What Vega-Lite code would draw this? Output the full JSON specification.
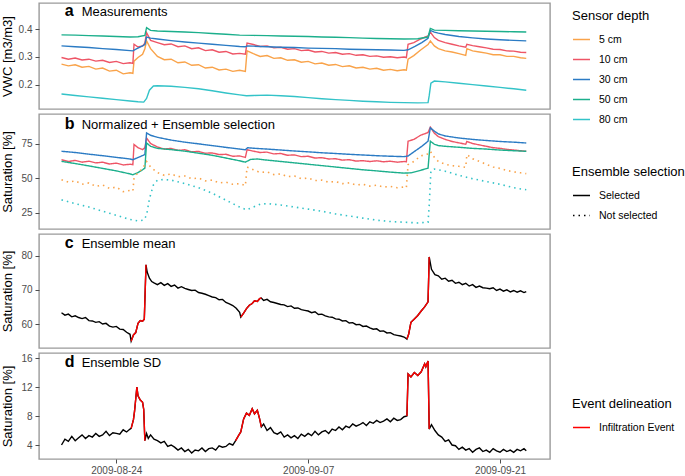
{
"$schema":"https://vega.github.io/schema/vega-lite/v6.json",
"background":"white",
"padding":{"left":0,"top":2,"right":5,"bottom":5},
"bounds":"flush",
"spacing":5,
"config":{
 "font":"Liberation Sans",
 "view":{"stroke":"#9a9a9a","strokeWidth":1.4},
 "axis":{"grid":false,"domain":false,"labelOverlap":false,"labelFont":"Liberation Sans","labelFontSize":10,"labelColor":"#4d4d4d","tickColor":"#4d4d4d","tickSize":4,"labelPadding":3,"titleFont":"Liberation Sans","titleFontSize":13,"titleFontWeight":"normal","titleColor":"#000000"},
 "legend":{"titleFont":"Liberation Sans","labelFont":"Liberation Sans","titleFontSize":13,"titleFontWeight":"normal","titleColor":"#000000","labelFontSize":10.5,"labelColor":"#000000","symbolType":"stroke","symbolSize":289,"symbolStrokeWidth":1.5,"rowPadding":5,"titlePadding":7,"labelOffset":8,"padding":0}
},
"datasets":{
"a":[
{"t":"2009-08-20T00:00","s":"5 cm","v":0.274},{"t":"2009-08-20T12:00","s":"5 cm","v":0.268},{"t":"2009-08-21T00:00","s":"5 cm","v":0.272},{"t":"2009-08-21T12:00","s":"5 cm","v":0.263},{"t":"2009-08-22T00:00","s":"5 cm","v":0.266},{"t":"2009-08-22T12:00","s":"5 cm","v":0.256},{"t":"2009-08-23T00:00","s":"5 cm","v":0.26},{"t":"2009-08-23T12:00","s":"5 cm","v":0.249},{"t":"2009-08-24T00:00","s":"5 cm","v":0.252},{"t":"2009-08-24T12:00","s":"5 cm","v":0.239},{"t":"2009-08-25T00:00","s":"5 cm","v":0.243},{"t":"2009-08-25T05:00","s":"5 cm","v":0.241},{"t":"2009-08-25T07:00","s":"5 cm","v":0.285},{"t":"2009-08-25T14:00","s":"5 cm","v":0.298},{"t":"2009-08-25T22:00","s":"5 cm","v":0.31},{"t":"2009-08-26T02:00","s":"5 cm","v":0.33},{"t":"2009-08-26T05:00","s":"5 cm","v":0.358},{"t":"2009-08-26T12:00","s":"5 cm","v":0.33},{"t":"2009-08-27T00:00","s":"5 cm","v":0.302},{"t":"2009-08-27T12:00","s":"5 cm","v":0.29},{"t":"2009-08-28T00:00","s":"5 cm","v":0.292},{"t":"2009-08-28T12:00","s":"5 cm","v":0.279},{"t":"2009-08-29T00:00","s":"5 cm","v":0.282},{"t":"2009-08-29T12:00","s":"5 cm","v":0.27},{"t":"2009-08-30T00:00","s":"5 cm","v":0.272},{"t":"2009-08-30T12:00","s":"5 cm","v":0.26},{"t":"2009-08-31T00:00","s":"5 cm","v":0.263},{"t":"2009-08-31T12:00","s":"5 cm","v":0.253},{"t":"2009-09-01T00:00","s":"5 cm","v":0.256},{"t":"2009-09-01T12:00","s":"5 cm","v":0.248},{"t":"2009-09-02T00:00","s":"5 cm","v":0.252},{"t":"2009-09-02T10:00","s":"5 cm","v":0.248},{"t":"2009-09-02T13:00","s":"5 cm","v":0.322},{"t":"2009-09-03T00:00","s":"5 cm","v":0.312},{"t":"2009-09-03T12:00","s":"5 cm","v":0.302},{"t":"2009-09-04T00:00","s":"5 cm","v":0.305},{"t":"2009-09-04T12:00","s":"5 cm","v":0.295},{"t":"2009-09-05T00:00","s":"5 cm","v":0.297},{"t":"2009-09-05T12:00","s":"5 cm","v":0.288},{"t":"2009-09-06T00:00","s":"5 cm","v":0.29},{"t":"2009-09-06T12:00","s":"5 cm","v":0.281},{"t":"2009-09-07T00:00","s":"5 cm","v":0.284},{"t":"2009-09-07T12:00","s":"5 cm","v":0.275},{"t":"2009-09-08T00:00","s":"5 cm","v":0.278},{"t":"2009-09-08T12:00","s":"5 cm","v":0.27},{"t":"2009-09-09T00:00","s":"5 cm","v":0.273},{"t":"2009-09-09T12:00","s":"5 cm","v":0.265},{"t":"2009-09-10T00:00","s":"5 cm","v":0.268},{"t":"2009-09-10T12:00","s":"5 cm","v":0.26},{"t":"2009-09-11T00:00","s":"5 cm","v":0.263},{"t":"2009-09-11T12:00","s":"5 cm","v":0.256},{"t":"2009-09-12T00:00","s":"5 cm","v":0.259},{"t":"2009-09-12T12:00","s":"5 cm","v":0.252},{"t":"2009-09-13T00:00","s":"5 cm","v":0.255},{"t":"2009-09-13T12:00","s":"5 cm","v":0.25},{"t":"2009-09-14T00:00","s":"5 cm","v":0.254},{"t":"2009-09-14T04:00","s":"5 cm","v":0.252},{"t":"2009-09-14T07:00","s":"5 cm","v":0.292},{"t":"2009-09-14T17:00","s":"5 cm","v":0.305},{"t":"2009-09-15T05:00","s":"5 cm","v":0.325},{"t":"2009-09-15T18:00","s":"5 cm","v":0.345},{"t":"2009-09-15T22:00","s":"5 cm","v":0.358},{"t":"2009-09-16T05:00","s":"5 cm","v":0.34},{"t":"2009-09-16T12:00","s":"5 cm","v":0.33},{"t":"2009-09-17T00:00","s":"5 cm","v":0.322},{"t":"2009-09-17T12:00","s":"5 cm","v":0.318},{"t":"2009-09-18T00:00","s":"5 cm","v":0.312},{"t":"2009-09-18T12:00","s":"5 cm","v":0.306},{"t":"2009-09-18T14:00","s":"5 cm","v":0.33},{"t":"2009-09-19T00:00","s":"5 cm","v":0.322},{"t":"2009-09-19T12:00","s":"5 cm","v":0.318},{"t":"2009-09-20T00:00","s":"5 cm","v":0.314},{"t":"2009-09-20T12:00","s":"5 cm","v":0.308},{"t":"2009-09-21T00:00","s":"5 cm","v":0.308},{"t":"2009-09-21T12:00","s":"5 cm","v":0.302},{"t":"2009-09-22T00:00","s":"5 cm","v":0.302},{"t":"2009-09-22T12:00","s":"5 cm","v":0.297},{"t":"2009-09-22T22:00","s":"5 cm","v":0.295},
{"t":"2009-08-20T00:00","s":"10 cm","v":0.298},{"t":"2009-08-20T12:00","s":"10 cm","v":0.292},{"t":"2009-08-21T00:00","s":"10 cm","v":0.296},{"t":"2009-08-21T12:00","s":"10 cm","v":0.289},{"t":"2009-08-22T00:00","s":"10 cm","v":0.292},{"t":"2009-08-22T12:00","s":"10 cm","v":0.285},{"t":"2009-08-23T00:00","s":"10 cm","v":0.288},{"t":"2009-08-23T12:00","s":"10 cm","v":0.28},{"t":"2009-08-24T00:00","s":"10 cm","v":0.284},{"t":"2009-08-24T12:00","s":"10 cm","v":0.276},{"t":"2009-08-25T00:00","s":"10 cm","v":0.279},{"t":"2009-08-25T05:00","s":"10 cm","v":0.277},{"t":"2009-08-25T07:00","s":"10 cm","v":0.346},{"t":"2009-08-25T14:00","s":"10 cm","v":0.336},{"t":"2009-08-25T22:00","s":"10 cm","v":0.34},{"t":"2009-08-26T02:00","s":"10 cm","v":0.35},{"t":"2009-08-26T05:00","s":"10 cm","v":0.388},{"t":"2009-08-26T12:00","s":"10 cm","v":0.36},{"t":"2009-08-27T00:00","s":"10 cm","v":0.352},{"t":"2009-08-27T12:00","s":"10 cm","v":0.344},{"t":"2009-08-28T00:00","s":"10 cm","v":0.347},{"t":"2009-08-28T12:00","s":"10 cm","v":0.337},{"t":"2009-08-29T00:00","s":"10 cm","v":0.34},{"t":"2009-08-29T12:00","s":"10 cm","v":0.33},{"t":"2009-08-30T00:00","s":"10 cm","v":0.333},{"t":"2009-08-30T12:00","s":"10 cm","v":0.323},{"t":"2009-08-31T00:00","s":"10 cm","v":0.326},{"t":"2009-08-31T12:00","s":"10 cm","v":0.317},{"t":"2009-09-01T00:00","s":"10 cm","v":0.32},{"t":"2009-09-01T12:00","s":"10 cm","v":0.311},{"t":"2009-09-02T00:00","s":"10 cm","v":0.313},{"t":"2009-09-02T10:00","s":"10 cm","v":0.31},{"t":"2009-09-02T13:00","s":"10 cm","v":0.35},{"t":"2009-09-03T00:00","s":"10 cm","v":0.345},{"t":"2009-09-03T12:00","s":"10 cm","v":0.338},{"t":"2009-09-04T00:00","s":"10 cm","v":0.34},{"t":"2009-09-04T12:00","s":"10 cm","v":0.333},{"t":"2009-09-05T00:00","s":"10 cm","v":0.335},{"t":"2009-09-05T12:00","s":"10 cm","v":0.328},{"t":"2009-09-06T00:00","s":"10 cm","v":0.33},{"t":"2009-09-06T12:00","s":"10 cm","v":0.323},{"t":"2009-09-07T00:00","s":"10 cm","v":0.325},{"t":"2009-09-07T12:00","s":"10 cm","v":0.318},{"t":"2009-09-08T00:00","s":"10 cm","v":0.32},{"t":"2009-09-08T12:00","s":"10 cm","v":0.314},{"t":"2009-09-09T00:00","s":"10 cm","v":0.316},{"t":"2009-09-09T12:00","s":"10 cm","v":0.31},{"t":"2009-09-10T00:00","s":"10 cm","v":0.312},{"t":"2009-09-10T12:00","s":"10 cm","v":0.306},{"t":"2009-09-11T00:00","s":"10 cm","v":0.308},{"t":"2009-09-11T12:00","s":"10 cm","v":0.302},{"t":"2009-09-12T00:00","s":"10 cm","v":0.304},{"t":"2009-09-12T12:00","s":"10 cm","v":0.299},{"t":"2009-09-13T00:00","s":"10 cm","v":0.301},{"t":"2009-09-13T12:00","s":"10 cm","v":0.297},{"t":"2009-09-14T00:00","s":"10 cm","v":0.3},{"t":"2009-09-14T04:00","s":"10 cm","v":0.298},{"t":"2009-09-14T07:00","s":"10 cm","v":0.346},{"t":"2009-09-14T17:00","s":"10 cm","v":0.352},{"t":"2009-09-15T05:00","s":"10 cm","v":0.365},{"t":"2009-09-15T18:00","s":"10 cm","v":0.376},{"t":"2009-09-15T22:00","s":"10 cm","v":0.39},{"t":"2009-09-16T05:00","s":"10 cm","v":0.37},{"t":"2009-09-16T12:00","s":"10 cm","v":0.36},{"t":"2009-09-17T00:00","s":"10 cm","v":0.352},{"t":"2009-09-17T12:00","s":"10 cm","v":0.346},{"t":"2009-09-18T00:00","s":"10 cm","v":0.34},{"t":"2009-09-18T12:00","s":"10 cm","v":0.335},{"t":"2009-09-18T14:00","s":"10 cm","v":0.346},{"t":"2009-09-19T00:00","s":"10 cm","v":0.341},{"t":"2009-09-19T12:00","s":"10 cm","v":0.337},{"t":"2009-09-20T00:00","s":"10 cm","v":0.333},{"t":"2009-09-20T12:00","s":"10 cm","v":0.328},{"t":"2009-09-21T00:00","s":"10 cm","v":0.327},{"t":"2009-09-21T12:00","s":"10 cm","v":0.322},{"t":"2009-09-22T00:00","s":"10 cm","v":0.321},{"t":"2009-09-22T12:00","s":"10 cm","v":0.317},{"t":"2009-09-22T22:00","s":"10 cm","v":0.316},
{"t":"2009-08-20T00:00","s":"30 cm","v":0.34},{"t":"2009-08-21T00:00","s":"30 cm","v":0.337},{"t":"2009-08-22T00:00","s":"30 cm","v":0.334},{"t":"2009-08-23T00:00","s":"30 cm","v":0.33},{"t":"2009-08-24T00:00","s":"30 cm","v":0.327},{"t":"2009-08-25T00:00","s":"30 cm","v":0.323},{"t":"2009-08-25T05:00","s":"30 cm","v":0.322},{"t":"2009-08-25T12:00","s":"30 cm","v":0.33},{"t":"2009-08-25T22:00","s":"30 cm","v":0.34},{"t":"2009-08-26T02:00","s":"30 cm","v":0.345},{"t":"2009-08-26T05:00","s":"30 cm","v":0.372},{"t":"2009-08-26T12:00","s":"30 cm","v":0.368},{"t":"2009-08-27T00:00","s":"30 cm","v":0.365},{"t":"2009-08-28T00:00","s":"30 cm","v":0.359},{"t":"2009-08-29T00:00","s":"30 cm","v":0.354},{"t":"2009-08-30T00:00","s":"30 cm","v":0.35},{"t":"2009-08-31T00:00","s":"30 cm","v":0.346},{"t":"2009-09-01T00:00","s":"30 cm","v":0.342},{"t":"2009-09-02T00:00","s":"30 cm","v":0.338},{"t":"2009-09-02T10:00","s":"30 cm","v":0.337},{"t":"2009-09-02T14:00","s":"30 cm","v":0.34},{"t":"2009-09-03T00:00","s":"30 cm","v":0.339},{"t":"2009-09-04T00:00","s":"30 cm","v":0.337},{"t":"2009-09-05T00:00","s":"30 cm","v":0.335},{"t":"2009-09-06T00:00","s":"30 cm","v":0.334},{"t":"2009-09-07T00:00","s":"30 cm","v":0.332},{"t":"2009-09-08T00:00","s":"30 cm","v":0.331},{"t":"2009-09-09T00:00","s":"30 cm","v":0.33},{"t":"2009-09-10T00:00","s":"30 cm","v":0.328},{"t":"2009-09-11T00:00","s":"30 cm","v":0.327},{"t":"2009-09-12T00:00","s":"30 cm","v":0.326},{"t":"2009-09-13T00:00","s":"30 cm","v":0.325},{"t":"2009-09-14T00:00","s":"30 cm","v":0.324},{"t":"2009-09-14T07:00","s":"30 cm","v":0.326},{"t":"2009-09-14T19:00","s":"30 cm","v":0.338},{"t":"2009-09-15T07:00","s":"30 cm","v":0.352},{"t":"2009-09-15T18:00","s":"30 cm","v":0.367},{"t":"2009-09-15T22:00","s":"30 cm","v":0.396},{"t":"2009-09-16T05:00","s":"30 cm","v":0.39},{"t":"2009-09-16T12:00","s":"30 cm","v":0.386},{"t":"2009-09-17T00:00","s":"30 cm","v":0.381},{"t":"2009-09-18T00:00","s":"30 cm","v":0.374},{"t":"2009-09-19T00:00","s":"30 cm","v":0.369},{"t":"2009-09-20T00:00","s":"30 cm","v":0.365},{"t":"2009-09-21T00:00","s":"30 cm","v":0.362},{"t":"2009-09-22T00:00","s":"30 cm","v":0.36},{"t":"2009-09-22T22:00","s":"30 cm","v":0.358},
{"t":"2009-08-20T00:00","s":"50 cm","v":0.38},{"t":"2009-08-21T00:00","s":"50 cm","v":0.379},{"t":"2009-08-22T00:00","s":"50 cm","v":0.377},{"t":"2009-08-23T00:00","s":"50 cm","v":0.376},{"t":"2009-08-24T00:00","s":"50 cm","v":0.374},{"t":"2009-08-25T00:00","s":"50 cm","v":0.372},{"t":"2009-08-25T14:00","s":"50 cm","v":0.373},{"t":"2009-08-26T02:00","s":"50 cm","v":0.378},{"t":"2009-08-26T05:00","s":"50 cm","v":0.406},{"t":"2009-08-26T12:00","s":"50 cm","v":0.396},{"t":"2009-08-27T00:00","s":"50 cm","v":0.394},{"t":"2009-08-28T00:00","s":"50 cm","v":0.392},{"t":"2009-08-29T00:00","s":"50 cm","v":0.39},{"t":"2009-08-30T00:00","s":"50 cm","v":0.388},{"t":"2009-08-31T00:00","s":"50 cm","v":0.385},{"t":"2009-09-01T00:00","s":"50 cm","v":0.382},{"t":"2009-09-02T00:00","s":"50 cm","v":0.379},{"t":"2009-09-03T00:00","s":"50 cm","v":0.378},{"t":"2009-09-04T00:00","s":"50 cm","v":0.377},{"t":"2009-09-05T00:00","s":"50 cm","v":0.376},{"t":"2009-09-06T00:00","s":"50 cm","v":0.375},{"t":"2009-09-07T00:00","s":"50 cm","v":0.374},{"t":"2009-09-08T00:00","s":"50 cm","v":0.372},{"t":"2009-09-09T00:00","s":"50 cm","v":0.371},{"t":"2009-09-10T00:00","s":"50 cm","v":0.37},{"t":"2009-09-11T00:00","s":"50 cm","v":0.368},{"t":"2009-09-12T00:00","s":"50 cm","v":0.367},{"t":"2009-09-13T00:00","s":"50 cm","v":0.366},{"t":"2009-09-14T00:00","s":"50 cm","v":0.365},{"t":"2009-09-15T00:00","s":"50 cm","v":0.366},{"t":"2009-09-15T18:00","s":"50 cm","v":0.372},{"t":"2009-09-15T22:00","s":"50 cm","v":0.403},{"t":"2009-09-16T05:00","s":"50 cm","v":0.397},{"t":"2009-09-17T00:00","s":"50 cm","v":0.396},{"t":"2009-09-18T00:00","s":"50 cm","v":0.395},{"t":"2009-09-19T00:00","s":"50 cm","v":0.394},{"t":"2009-09-20T00:00","s":"50 cm","v":0.393},{"t":"2009-09-21T00:00","s":"50 cm","v":0.392},{"t":"2009-09-22T00:00","s":"50 cm","v":0.391},{"t":"2009-09-22T22:00","s":"50 cm","v":0.39},
{"t":"2009-08-20T00:00","s":"80 cm","v":0.166},{"t":"2009-08-21T00:00","s":"80 cm","v":0.161},{"t":"2009-08-22T00:00","s":"80 cm","v":0.156},{"t":"2009-08-23T00:00","s":"80 cm","v":0.151},{"t":"2009-08-24T00:00","s":"80 cm","v":0.146},{"t":"2009-08-25T00:00","s":"80 cm","v":0.141},{"t":"2009-08-25T14:00","s":"80 cm","v":0.138},{"t":"2009-08-26T00:00","s":"80 cm","v":0.137},{"t":"2009-08-26T05:00","s":"80 cm","v":0.15},{"t":"2009-08-26T10:00","s":"80 cm","v":0.18},{"t":"2009-08-26T17:00","s":"80 cm","v":0.195},{"t":"2009-08-27T00:00","s":"80 cm","v":0.196},{"t":"2009-08-28T00:00","s":"80 cm","v":0.194},{"t":"2009-08-29T00:00","s":"80 cm","v":0.19},{"t":"2009-08-30T00:00","s":"80 cm","v":0.185},{"t":"2009-08-31T00:00","s":"80 cm","v":0.178},{"t":"2009-09-01T00:00","s":"80 cm","v":0.17},{"t":"2009-09-02T00:00","s":"80 cm","v":0.163},{"t":"2009-09-02T12:00","s":"80 cm","v":0.16},{"t":"2009-09-03T00:00","s":"80 cm","v":0.161},{"t":"2009-09-04T00:00","s":"80 cm","v":0.162},{"t":"2009-09-05T00:00","s":"80 cm","v":0.16},{"t":"2009-09-06T00:00","s":"80 cm","v":0.157},{"t":"2009-09-07T00:00","s":"80 cm","v":0.153},{"t":"2009-09-08T00:00","s":"80 cm","v":0.149},{"t":"2009-09-09T00:00","s":"80 cm","v":0.146},{"t":"2009-09-10T00:00","s":"80 cm","v":0.143},{"t":"2009-09-11T00:00","s":"80 cm","v":0.14},{"t":"2009-09-12T00:00","s":"80 cm","v":0.138},{"t":"2009-09-13T00:00","s":"80 cm","v":0.136},{"t":"2009-09-14T00:00","s":"80 cm","v":0.135},{"t":"2009-09-15T00:00","s":"80 cm","v":0.134},{"t":"2009-09-15T18:00","s":"80 cm","v":0.135},{"t":"2009-09-15T20:00","s":"80 cm","v":0.16},{"t":"2009-09-15T23:00","s":"80 cm","v":0.205},{"t":"2009-09-16T05:00","s":"80 cm","v":0.213},{"t":"2009-09-17T00:00","s":"80 cm","v":0.21},{"t":"2009-09-18T00:00","s":"80 cm","v":0.205},{"t":"2009-09-19T00:00","s":"80 cm","v":0.2},{"t":"2009-09-20T00:00","s":"80 cm","v":0.195},{"t":"2009-09-21T00:00","s":"80 cm","v":0.19},{"t":"2009-09-22T00:00","s":"80 cm","v":0.185},{"t":"2009-09-22T22:00","s":"80 cm","v":0.18}
],
"b":[
{"t":"2009-08-20T00:00","s":"10 cm","v":63.3},{"t":"2009-08-20T12:00","s":"10 cm","v":62},{"t":"2009-08-21T00:00","s":"10 cm","v":62.8},{"t":"2009-08-21T12:00","s":"10 cm","v":61.5},{"t":"2009-08-22T00:00","s":"10 cm","v":62.2},{"t":"2009-08-22T12:00","s":"10 cm","v":61},{"t":"2009-08-23T00:00","s":"10 cm","v":61.5},{"t":"2009-08-23T12:00","s":"10 cm","v":60.2},{"t":"2009-08-24T00:00","s":"10 cm","v":60.8},{"t":"2009-08-24T12:00","s":"10 cm","v":59.5},{"t":"2009-08-25T00:00","s":"10 cm","v":60},{"t":"2009-08-25T05:00","s":"10 cm","v":59.7},{"t":"2009-08-25T07:00","s":"10 cm","v":74.3},{"t":"2009-08-25T14:00","s":"10 cm","v":72},{"t":"2009-08-25T22:00","s":"10 cm","v":70.6},{"t":"2009-08-26T02:00","s":"10 cm","v":72},{"t":"2009-08-26T05:00","s":"10 cm","v":79},{"t":"2009-08-26T12:00","s":"10 cm","v":75},{"t":"2009-08-27T00:00","s":"10 cm","v":72.5},{"t":"2009-08-27T12:00","s":"10 cm","v":71},{"t":"2009-08-28T00:00","s":"10 cm","v":71.5},{"t":"2009-08-28T12:00","s":"10 cm","v":70},{"t":"2009-08-29T00:00","s":"10 cm","v":70.5},{"t":"2009-08-29T12:00","s":"10 cm","v":69},{"t":"2009-08-30T00:00","s":"10 cm","v":69.3},{"t":"2009-08-30T12:00","s":"10 cm","v":68},{"t":"2009-08-31T00:00","s":"10 cm","v":68.2},{"t":"2009-08-31T12:00","s":"10 cm","v":67},{"t":"2009-09-01T00:00","s":"10 cm","v":67.2},{"t":"2009-09-01T12:00","s":"10 cm","v":65.8},{"t":"2009-09-02T00:00","s":"10 cm","v":66},{"t":"2009-09-02T10:00","s":"10 cm","v":65},{"t":"2009-09-02T13:00","s":"10 cm","v":70.5},{"t":"2009-09-03T00:00","s":"10 cm","v":69.5},{"t":"2009-09-03T12:00","s":"10 cm","v":68.5},{"t":"2009-09-04T00:00","s":"10 cm","v":68.8},{"t":"2009-09-04T12:00","s":"10 cm","v":67.5},{"t":"2009-09-05T00:00","s":"10 cm","v":67.8},{"t":"2009-09-05T12:00","s":"10 cm","v":66.5},{"t":"2009-09-06T00:00","s":"10 cm","v":66.8},{"t":"2009-09-06T12:00","s":"10 cm","v":65.5},{"t":"2009-09-07T00:00","s":"10 cm","v":65.8},{"t":"2009-09-07T12:00","s":"10 cm","v":64.5},{"t":"2009-09-08T00:00","s":"10 cm","v":64.8},{"t":"2009-09-08T12:00","s":"10 cm","v":63.8},{"t":"2009-09-09T00:00","s":"10 cm","v":64},{"t":"2009-09-09T12:00","s":"10 cm","v":63},{"t":"2009-09-10T00:00","s":"10 cm","v":63.3},{"t":"2009-09-10T12:00","s":"10 cm","v":62.3},{"t":"2009-09-11T00:00","s":"10 cm","v":62.6},{"t":"2009-09-11T12:00","s":"10 cm","v":62},{"t":"2009-09-12T00:00","s":"10 cm","v":62.5},{"t":"2009-09-12T12:00","s":"10 cm","v":61.8},{"t":"2009-09-13T00:00","s":"10 cm","v":62.2},{"t":"2009-09-13T12:00","s":"10 cm","v":61.5},{"t":"2009-09-14T00:00","s":"10 cm","v":62},{"t":"2009-09-14T04:00","s":"10 cm","v":61.8},{"t":"2009-09-14T07:00","s":"10 cm","v":76.7},{"t":"2009-09-14T17:00","s":"10 cm","v":78},{"t":"2009-09-15T05:00","s":"10 cm","v":81},{"t":"2009-09-15T18:00","s":"10 cm","v":83},{"t":"2009-09-15T22:00","s":"10 cm","v":86.9},{"t":"2009-09-16T05:00","s":"10 cm","v":82.5},{"t":"2009-09-16T12:00","s":"10 cm","v":80},{"t":"2009-09-17T00:00","s":"10 cm","v":78},{"t":"2009-09-17T12:00","s":"10 cm","v":76.5},{"t":"2009-09-18T00:00","s":"10 cm","v":75.5},{"t":"2009-09-18T12:00","s":"10 cm","v":74.5},{"t":"2009-09-18T14:00","s":"10 cm","v":76.5},{"t":"2009-09-19T00:00","s":"10 cm","v":75},{"t":"2009-09-19T12:00","s":"10 cm","v":74},{"t":"2009-09-20T00:00","s":"10 cm","v":73},{"t":"2009-09-20T12:00","s":"10 cm","v":72},{"t":"2009-09-21T00:00","s":"10 cm","v":71.5},{"t":"2009-09-21T12:00","s":"10 cm","v":70.8},{"t":"2009-09-22T00:00","s":"10 cm","v":70.3},{"t":"2009-09-22T12:00","s":"10 cm","v":69.8},{"t":"2009-09-22T22:00","s":"10 cm","v":69.4},
{"t":"2009-08-20T00:00","s":"30 cm","v":69.4},{"t":"2009-08-21T00:00","s":"30 cm","v":68.5},{"t":"2009-08-22T00:00","s":"30 cm","v":67.3},{"t":"2009-08-23T00:00","s":"30 cm","v":66.2},{"t":"2009-08-24T00:00","s":"30 cm","v":65},{"t":"2009-08-25T00:00","s":"30 cm","v":63.8},{"t":"2009-08-25T05:00","s":"30 cm","v":63.3},{"t":"2009-08-25T12:00","s":"30 cm","v":64.5},{"t":"2009-08-25T22:00","s":"30 cm","v":66.3},{"t":"2009-08-26T02:00","s":"30 cm","v":67},{"t":"2009-08-26T05:00","s":"30 cm","v":82.7},{"t":"2009-08-26T12:00","s":"30 cm","v":81},{"t":"2009-08-27T00:00","s":"30 cm","v":79.5},{"t":"2009-08-28T00:00","s":"30 cm","v":77.5},{"t":"2009-08-29T00:00","s":"30 cm","v":76},{"t":"2009-08-30T00:00","s":"30 cm","v":74.8},{"t":"2009-08-31T00:00","s":"30 cm","v":73.5},{"t":"2009-09-01T00:00","s":"30 cm","v":72.2},{"t":"2009-09-02T00:00","s":"30 cm","v":71},{"t":"2009-09-02T10:00","s":"30 cm","v":70.5},{"t":"2009-09-02T14:00","s":"30 cm","v":72},{"t":"2009-09-03T00:00","s":"30 cm","v":71.6},{"t":"2009-09-04T00:00","s":"30 cm","v":71},{"t":"2009-09-05T00:00","s":"30 cm","v":70.3},{"t":"2009-09-06T00:00","s":"30 cm","v":69.6},{"t":"2009-09-07T00:00","s":"30 cm","v":69},{"t":"2009-09-08T00:00","s":"30 cm","v":68.3},{"t":"2009-09-09T00:00","s":"30 cm","v":67.8},{"t":"2009-09-10T00:00","s":"30 cm","v":67.2},{"t":"2009-09-11T00:00","s":"30 cm","v":66.7},{"t":"2009-09-12T00:00","s":"30 cm","v":66.2},{"t":"2009-09-13T00:00","s":"30 cm","v":65.8},{"t":"2009-09-14T00:00","s":"30 cm","v":65.5},{"t":"2009-09-14T07:00","s":"30 cm","v":66},{"t":"2009-09-14T19:00","s":"30 cm","v":69.5},{"t":"2009-09-15T07:00","s":"30 cm","v":73},{"t":"2009-09-15T18:00","s":"30 cm","v":76.7},{"t":"2009-09-15T22:00","s":"30 cm","v":86.4},{"t":"2009-09-16T05:00","s":"30 cm","v":84},{"t":"2009-09-16T12:00","s":"30 cm","v":82},{"t":"2009-09-17T00:00","s":"30 cm","v":80.5},{"t":"2009-09-18T00:00","s":"30 cm","v":79},{"t":"2009-09-19T00:00","s":"30 cm","v":78},{"t":"2009-09-20T00:00","s":"30 cm","v":77.2},{"t":"2009-09-21T00:00","s":"30 cm","v":76.5},{"t":"2009-09-22T00:00","s":"30 cm","v":76},{"t":"2009-09-22T22:00","s":"30 cm","v":75.4},
{"t":"2009-08-20T00:00","s":"50 cm","v":62.1},{"t":"2009-08-21T00:00","s":"50 cm","v":60.5},{"t":"2009-08-22T00:00","s":"50 cm","v":58.8},{"t":"2009-08-23T00:00","s":"50 cm","v":57},{"t":"2009-08-24T00:00","s":"50 cm","v":55.2},{"t":"2009-08-25T00:00","s":"50 cm","v":53},{"t":"2009-08-25T05:00","s":"50 cm","v":52.4},{"t":"2009-08-25T14:00","s":"50 cm","v":54},{"t":"2009-08-25T22:00","s":"50 cm","v":56},{"t":"2009-08-26T02:00","s":"50 cm","v":57.2},{"t":"2009-08-26T05:00","s":"50 cm","v":75.4},{"t":"2009-08-26T12:00","s":"50 cm","v":73},{"t":"2009-08-27T00:00","s":"50 cm","v":71.5},{"t":"2009-08-28T00:00","s":"50 cm","v":70.6},{"t":"2009-08-29T00:00","s":"50 cm","v":69.5},{"t":"2009-08-30T00:00","s":"50 cm","v":68},{"t":"2009-08-31T00:00","s":"50 cm","v":66.5},{"t":"2009-09-01T00:00","s":"50 cm","v":64.5},{"t":"2009-09-02T00:00","s":"50 cm","v":62.5},{"t":"2009-09-02T10:00","s":"50 cm","v":61.5},{"t":"2009-09-02T19:00","s":"50 cm","v":63.5},{"t":"2009-09-03T07:00","s":"50 cm","v":63.8},{"t":"2009-09-04T00:00","s":"50 cm","v":63},{"t":"2009-09-05T00:00","s":"50 cm","v":62},{"t":"2009-09-06T00:00","s":"50 cm","v":61},{"t":"2009-09-07T00:00","s":"50 cm","v":60},{"t":"2009-09-08T00:00","s":"50 cm","v":59},{"t":"2009-09-09T00:00","s":"50 cm","v":58},{"t":"2009-09-10T00:00","s":"50 cm","v":57},{"t":"2009-09-11T00:00","s":"50 cm","v":56},{"t":"2009-09-12T00:00","s":"50 cm","v":55.2},{"t":"2009-09-13T00:00","s":"50 cm","v":54.3},{"t":"2009-09-14T00:00","s":"50 cm","v":53.6},{"t":"2009-09-14T12:00","s":"50 cm","v":53.8},{"t":"2009-09-15T00:00","s":"50 cm","v":55},{"t":"2009-09-15T18:00","s":"50 cm","v":57.2},{"t":"2009-09-15T22:00","s":"50 cm","v":76.7},{"t":"2009-09-16T05:00","s":"50 cm","v":74.5},{"t":"2009-09-16T12:00","s":"50 cm","v":73.5},{"t":"2009-09-17T00:00","s":"50 cm","v":73},{"t":"2009-09-18T00:00","s":"50 cm","v":72.3},{"t":"2009-09-19T00:00","s":"50 cm","v":71.5},{"t":"2009-09-20T00:00","s":"50 cm","v":71},{"t":"2009-09-21T00:00","s":"50 cm","v":70.3},{"t":"2009-09-22T00:00","s":"50 cm","v":69.8},{"t":"2009-09-22T22:00","s":"50 cm","v":69.4},
{"t":"2009-08-20T00:00","s":"5 cm","v":48.8},{"t":"2009-08-20T12:00","s":"5 cm","v":47},{"t":"2009-08-21T00:00","s":"5 cm","v":48},{"t":"2009-08-21T12:00","s":"5 cm","v":45.5},{"t":"2009-08-22T00:00","s":"5 cm","v":46.5},{"t":"2009-08-22T12:00","s":"5 cm","v":44},{"t":"2009-08-23T00:00","s":"5 cm","v":45},{"t":"2009-08-23T12:00","s":"5 cm","v":42.5},{"t":"2009-08-24T00:00","s":"5 cm","v":43.5},{"t":"2009-08-24T12:00","s":"5 cm","v":40.2},{"t":"2009-08-25T00:00","s":"5 cm","v":41},{"t":"2009-08-25T05:00","s":"5 cm","v":40.5},{"t":"2009-08-25T07:00","s":"5 cm","v":50},{"t":"2009-08-25T14:00","s":"5 cm","v":54},{"t":"2009-08-25T22:00","s":"5 cm","v":57},{"t":"2009-08-26T02:00","s":"5 cm","v":59.7},{"t":"2009-08-26T05:00","s":"5 cm","v":62},{"t":"2009-08-26T12:00","s":"5 cm","v":58},{"t":"2009-08-27T00:00","s":"5 cm","v":54},{"t":"2009-08-27T12:00","s":"5 cm","v":52},{"t":"2009-08-28T00:00","s":"5 cm","v":53},{"t":"2009-08-28T12:00","s":"5 cm","v":51},{"t":"2009-08-29T00:00","s":"5 cm","v":51.5},{"t":"2009-08-29T12:00","s":"5 cm","v":49.5},{"t":"2009-08-30T00:00","s":"5 cm","v":50},{"t":"2009-08-30T12:00","s":"5 cm","v":48},{"t":"2009-08-31T00:00","s":"5 cm","v":48.5},{"t":"2009-08-31T12:00","s":"5 cm","v":46.5},{"t":"2009-09-01T00:00","s":"5 cm","v":47},{"t":"2009-09-01T12:00","s":"5 cm","v":45.5},{"t":"2009-09-02T00:00","s":"5 cm","v":46},{"t":"2009-09-02T10:00","s":"5 cm","v":44.5},{"t":"2009-09-02T13:00","s":"5 cm","v":58},{"t":"2009-09-03T00:00","s":"5 cm","v":56},{"t":"2009-09-03T12:00","s":"5 cm","v":54},{"t":"2009-09-04T00:00","s":"5 cm","v":54.5},{"t":"2009-09-04T12:00","s":"5 cm","v":52.5},{"t":"2009-09-05T00:00","s":"5 cm","v":53},{"t":"2009-09-05T12:00","s":"5 cm","v":51},{"t":"2009-09-06T00:00","s":"5 cm","v":51.5},{"t":"2009-09-06T12:00","s":"5 cm","v":49.5},{"t":"2009-09-07T00:00","s":"5 cm","v":50},{"t":"2009-09-07T12:00","s":"5 cm","v":48.2},{"t":"2009-09-08T00:00","s":"5 cm","v":48.5},{"t":"2009-09-08T12:00","s":"5 cm","v":47},{"t":"2009-09-09T00:00","s":"5 cm","v":47.5},{"t":"2009-09-09T12:00","s":"5 cm","v":46},{"t":"2009-09-10T00:00","s":"5 cm","v":46.5},{"t":"2009-09-10T12:00","s":"5 cm","v":45},{"t":"2009-09-11T00:00","s":"5 cm","v":45.5},{"t":"2009-09-11T12:00","s":"5 cm","v":44.2},{"t":"2009-09-12T00:00","s":"5 cm","v":44.8},{"t":"2009-09-12T12:00","s":"5 cm","v":43.5},{"t":"2009-09-13T00:00","s":"5 cm","v":44},{"t":"2009-09-13T12:00","s":"5 cm","v":43},{"t":"2009-09-14T00:00","s":"5 cm","v":43.5},{"t":"2009-09-14T04:00","s":"5 cm","v":43},{"t":"2009-09-14T07:00","s":"5 cm","v":59.7},{"t":"2009-09-14T17:00","s":"5 cm","v":62},{"t":"2009-09-15T05:00","s":"5 cm","v":66},{"t":"2009-09-15T18:00","s":"5 cm","v":67.5},{"t":"2009-09-15T22:00","s":"5 cm","v":69.4},{"t":"2009-09-16T05:00","s":"5 cm","v":65},{"t":"2009-09-16T12:00","s":"5 cm","v":62},{"t":"2009-09-17T00:00","s":"5 cm","v":60},{"t":"2009-09-17T12:00","s":"5 cm","v":59},{"t":"2009-09-18T00:00","s":"5 cm","v":58.5},{"t":"2009-09-18T12:00","s":"5 cm","v":57.8},{"t":"2009-09-18T14:00","s":"5 cm","v":67},{"t":"2009-09-19T00:00","s":"5 cm","v":64},{"t":"2009-09-19T12:00","s":"5 cm","v":62},{"t":"2009-09-20T00:00","s":"5 cm","v":60},{"t":"2009-09-20T12:00","s":"5 cm","v":58},{"t":"2009-09-21T00:00","s":"5 cm","v":57},{"t":"2009-09-21T12:00","s":"5 cm","v":55.5},{"t":"2009-09-22T00:00","s":"5 cm","v":54.5},{"t":"2009-09-22T12:00","s":"5 cm","v":53.8},{"t":"2009-09-22T22:00","s":"5 cm","v":53.2},
{"t":"2009-08-20T00:00","s":"80 cm","v":34.2},{"t":"2009-08-21T00:00","s":"80 cm","v":31.5},{"t":"2009-08-22T00:00","s":"80 cm","v":29},{"t":"2009-08-23T00:00","s":"80 cm","v":26},{"t":"2009-08-24T00:00","s":"80 cm","v":23},{"t":"2009-08-25T00:00","s":"80 cm","v":20},{"t":"2009-08-25T14:00","s":"80 cm","v":19},{"t":"2009-08-26T00:00","s":"80 cm","v":19.5},{"t":"2009-08-26T05:00","s":"80 cm","v":23},{"t":"2009-08-26T10:00","s":"80 cm","v":35},{"t":"2009-08-26T17:00","s":"80 cm","v":45},{"t":"2009-08-27T00:00","s":"80 cm","v":48.5},{"t":"2009-08-27T12:00","s":"80 cm","v":49},{"t":"2009-08-28T00:00","s":"80 cm","v":48.5},{"t":"2009-08-29T00:00","s":"80 cm","v":46},{"t":"2009-08-30T00:00","s":"80 cm","v":43},{"t":"2009-08-31T00:00","s":"80 cm","v":39},{"t":"2009-09-01T00:00","s":"80 cm","v":34},{"t":"2009-09-02T00:00","s":"80 cm","v":29},{"t":"2009-09-02T12:00","s":"80 cm","v":27},{"t":"2009-09-03T00:00","s":"80 cm","v":29},{"t":"2009-09-03T12:00","s":"80 cm","v":31},{"t":"2009-09-04T00:00","s":"80 cm","v":31.5},{"t":"2009-09-05T00:00","s":"80 cm","v":30.5},{"t":"2009-09-06T00:00","s":"80 cm","v":29},{"t":"2009-09-07T00:00","s":"80 cm","v":27.5},{"t":"2009-09-08T00:00","s":"80 cm","v":26},{"t":"2009-09-09T00:00","s":"80 cm","v":24},{"t":"2009-09-10T00:00","s":"80 cm","v":22.5},{"t":"2009-09-11T00:00","s":"80 cm","v":21},{"t":"2009-09-12T00:00","s":"80 cm","v":19.5},{"t":"2009-09-13T00:00","s":"80 cm","v":18.5},{"t":"2009-09-14T00:00","s":"80 cm","v":18},{"t":"2009-09-15T00:00","s":"80 cm","v":17.5},{"t":"2009-09-15T18:00","s":"80 cm","v":18},{"t":"2009-09-15T20:00","s":"80 cm","v":30},{"t":"2009-09-15T23:00","s":"80 cm","v":55},{"t":"2009-09-16T05:00","s":"80 cm","v":56.5},{"t":"2009-09-17T00:00","s":"80 cm","v":55},{"t":"2009-09-18T00:00","s":"80 cm","v":52},{"t":"2009-09-19T00:00","s":"80 cm","v":49.5},{"t":"2009-09-20T00:00","s":"80 cm","v":47.5},{"t":"2009-09-21T00:00","s":"80 cm","v":45.5},{"t":"2009-09-22T00:00","s":"80 cm","v":43},{"t":"2009-09-22T22:00","s":"80 cm","v":41.5}
],
"c":[
{"t":"2009-08-20T00:00","v":63.3,"e":0},{"t":"2009-08-20T06:00","v":62.6,"e":0},{"t":"2009-08-20T12:00","v":62.9,"e":0},{"t":"2009-08-20T18:00","v":62.1,"e":0},{"t":"2009-08-21T00:00","v":62.4,"e":0},{"t":"2009-08-21T06:00","v":61.9,"e":0},{"t":"2009-08-21T12:00","v":61.6,"e":0},{"t":"2009-08-21T18:00","v":61.9,"e":0},{"t":"2009-08-22T00:00","v":61.0,"e":0},{"t":"2009-08-22T06:00","v":60.9,"e":0},{"t":"2009-08-22T12:00","v":60.5,"e":0},{"t":"2009-08-22T18:00","v":60.7,"e":0},{"t":"2009-08-23T00:00","v":60.0,"e":0},{"t":"2009-08-23T06:00","v":60.2,"e":0},{"t":"2009-08-23T12:00","v":59.4,"e":0},{"t":"2009-08-23T18:00","v":59.1,"e":0},{"t":"2009-08-24T00:00","v":59.3,"e":0},{"t":"2009-08-24T06:00","v":58.5,"e":0},{"t":"2009-08-24T12:00","v":58.4,"e":0},{"t":"2009-08-24T18:00","v":57.6,"e":0},{"t":"2009-08-25T00:00","v":57.0,"e":0},
{"t":"2009-08-25T02:00","v":55.0,"e":1},{"t":"2009-08-25T06:00","v":56.8,"e":1},{"t":"2009-08-25T10:00","v":57.5,"e":1},{"t":"2009-08-25T14:00","v":60.2,"e":1},{"t":"2009-08-25T18:00","v":61.0,"e":1},{"t":"2009-08-25T22:00","v":60.8,"e":1},{"t":"2009-08-26T01:00","v":61.4,"e":1},{"t":"2009-08-26T04:00","v":77.3,"e":1},
{"t":"2009-08-26T06:00","v":75.2,"e":0},{"t":"2009-08-26T10:00","v":73.4,"e":0},{"t":"2009-08-26T14:00","v":72.4,"e":0},{"t":"2009-08-26T18:00","v":72.0,"e":0},{"t":"2009-08-27T00:00","v":71.5,"e":0},{"t":"2009-08-27T06:00","v":72.1,"e":0},{"t":"2009-08-27T12:00","v":71.3,"e":0},{"t":"2009-08-27T18:00","v":71.8,"e":0},{"t":"2009-08-28T00:00","v":71.0,"e":0},{"t":"2009-08-28T06:00","v":71.4,"e":0},{"t":"2009-08-28T12:00","v":70.5,"e":0},{"t":"2009-08-28T18:00","v":70.9,"e":0},{"t":"2009-08-29T00:00","v":70.4,"e":0},{"t":"2009-08-29T06:00","v":70.1,"e":0},{"t":"2009-08-29T12:00","v":69.8,"e":0},{"t":"2009-08-29T18:00","v":69.9,"e":0},{"t":"2009-08-30T00:00","v":69.2,"e":0},{"t":"2009-08-30T06:00","v":69.0,"e":0},{"t":"2009-08-30T12:00","v":68.7,"e":0},{"t":"2009-08-30T18:00","v":68.3,"e":0},{"t":"2009-08-31T00:00","v":67.9,"e":0},{"t":"2009-08-31T06:00","v":67.7,"e":0},{"t":"2009-08-31T12:00","v":67.1,"e":0},{"t":"2009-08-31T18:00","v":67.2,"e":0},{"t":"2009-09-01T00:00","v":66.3,"e":0},{"t":"2009-09-01T06:00","v":65.9,"e":0},{"t":"2009-09-01T12:00","v":65.4,"e":0},{"t":"2009-09-01T18:00","v":64.6,"e":0},{"t":"2009-09-02T00:00","v":63.4,"e":0},
{"t":"2009-09-02T02:00","v":62.0,"e":2},{"t":"2009-09-02T07:00","v":63.2,"e":2},{"t":"2009-09-02T12:00","v":64.5,"e":2},{"t":"2009-09-02T17:00","v":65.5,"e":2},{"t":"2009-09-02T22:00","v":66.0,"e":2},{"t":"2009-09-03T02:00","v":66.8,"e":2},{"t":"2009-09-03T07:00","v":66.6,"e":2},{"t":"2009-09-03T11:00","v":67.4,"e":2},{"t":"2009-09-03T14:00","v":67.6,"e":2},
{"t":"2009-09-03T18:00","v":66.9,"e":0},{"t":"2009-09-04T00:00","v":67.2,"e":0},{"t":"2009-09-04T06:00","v":66.5,"e":0},{"t":"2009-09-04T12:00","v":66.3,"e":0},{"t":"2009-09-04T18:00","v":66.0,"e":0},{"t":"2009-09-05T00:00","v":65.7,"e":0},{"t":"2009-09-05T06:00","v":65.6,"e":0},{"t":"2009-09-05T12:00","v":65.1,"e":0},{"t":"2009-09-05T18:00","v":65.3,"e":0},{"t":"2009-09-06T00:00","v":64.6,"e":0},{"t":"2009-09-06T06:00","v":64.7,"e":0},{"t":"2009-09-06T12:00","v":64.2,"e":0},{"t":"2009-09-06T18:00","v":64.0,"e":0},{"t":"2009-09-07T00:00","v":63.8,"e":0},{"t":"2009-09-07T06:00","v":63.3,"e":0},{"t":"2009-09-07T12:00","v":63.6,"e":0},{"t":"2009-09-07T18:00","v":62.8,"e":0},{"t":"2009-09-08T00:00","v":62.9,"e":0},{"t":"2009-09-08T06:00","v":62.4,"e":0},{"t":"2009-09-08T12:00","v":62.1,"e":0},{"t":"2009-09-08T18:00","v":62.0,"e":0},{"t":"2009-09-09T00:00","v":61.5,"e":0},{"t":"2009-09-09T06:00","v":61.4,"e":0},{"t":"2009-09-09T12:00","v":60.9,"e":0},{"t":"2009-09-09T18:00","v":61.0,"e":0},{"t":"2009-09-10T00:00","v":60.3,"e":0},{"t":"2009-09-10T06:00","v":60.4,"e":0},{"t":"2009-09-10T12:00","v":59.8,"e":0},{"t":"2009-09-10T18:00","v":59.9,"e":0},{"t":"2009-09-11T00:00","v":59.3,"e":0},{"t":"2009-09-11T06:00","v":59.4,"e":0},{"t":"2009-09-11T12:00","v":58.9,"e":0},{"t":"2009-09-11T18:00","v":58.5,"e":0},{"t":"2009-09-12T00:00","v":58.6,"e":0},{"t":"2009-09-12T06:00","v":57.9,"e":0},{"t":"2009-09-12T12:00","v":58.0,"e":0},{"t":"2009-09-12T18:00","v":57.4,"e":0},{"t":"2009-09-13T00:00","v":57.5,"e":0},{"t":"2009-09-13T06:00","v":56.9,"e":0},{"t":"2009-09-13T12:00","v":56.7,"e":0},{"t":"2009-09-13T18:00","v":56.5,"e":0},{"t":"2009-09-14T00:00","v":56.2,"e":0},
{"t":"2009-09-14T05:00","v":55.6,"e":3},{"t":"2009-09-14T08:00","v":57.0,"e":3},{"t":"2009-09-14T12:00","v":60.5,"e":3},{"t":"2009-09-14T18:00","v":61.5,"e":3},{"t":"2009-09-15T00:00","v":62.5,"e":3},{"t":"2009-09-15T06:00","v":63.8,"e":3},{"t":"2009-09-15T12:00","v":65.0,"e":3},{"t":"2009-09-15T18:00","v":66.5,"e":3},{"t":"2009-09-15T20:00","v":79.6,"e":3},
{"t":"2009-09-16T00:00","v":76.0,"e":0},{"t":"2009-09-16T06:00","v":74.4,"e":0},{"t":"2009-09-16T12:00","v":74.1,"e":0},{"t":"2009-09-16T18:00","v":73.1,"e":0},{"t":"2009-09-17T00:00","v":73.4,"e":0},{"t":"2009-09-17T06:00","v":72.5,"e":0},{"t":"2009-09-17T12:00","v":72.8,"e":0},{"t":"2009-09-17T18:00","v":71.9,"e":0},{"t":"2009-09-18T00:00","v":72.2,"e":0},{"t":"2009-09-18T06:00","v":71.5,"e":0},{"t":"2009-09-18T12:00","v":71.9,"e":0},{"t":"2009-09-18T18:00","v":71.1,"e":0},{"t":"2009-09-19T00:00","v":71.5,"e":0},{"t":"2009-09-19T06:00","v":70.7,"e":0},{"t":"2009-09-19T12:00","v":71.1,"e":0},{"t":"2009-09-19T18:00","v":70.6,"e":0},{"t":"2009-09-20T00:00","v":70.5,"e":0},{"t":"2009-09-20T06:00","v":70.3,"e":0},{"t":"2009-09-20T12:00","v":70.6,"e":0},{"t":"2009-09-20T18:00","v":69.8,"e":0},{"t":"2009-09-21T00:00","v":70.2,"e":0},{"t":"2009-09-21T06:00","v":69.6,"e":0},{"t":"2009-09-21T12:00","v":70.0,"e":0},{"t":"2009-09-21T18:00","v":69.4,"e":0},{"t":"2009-09-22T00:00","v":69.8,"e":0},{"t":"2009-09-22T06:00","v":69.3,"e":0},{"t":"2009-09-22T12:00","v":69.7,"e":0},{"t":"2009-09-22T18:00","v":69.2,"e":0},{"t":"2009-09-22T22:00","v":69.5,"e":0}
],
"d":[
{"t":"2009-08-20T00:00","v":4.0,"e":0},{"t":"2009-08-20T06:00","v":4.8,"e":0},{"t":"2009-08-20T12:00","v":4.5,"e":0},{"t":"2009-08-20T18:00","v":5.2,"e":0},{"t":"2009-08-21T00:00","v":4.6,"e":0},{"t":"2009-08-21T06:00","v":5.0,"e":0},{"t":"2009-08-21T12:00","v":5.4,"e":0},{"t":"2009-08-21T18:00","v":4.9,"e":0},{"t":"2009-08-22T00:00","v":5.3,"e":0},{"t":"2009-08-22T06:00","v":5.1,"e":0},{"t":"2009-08-22T12:00","v":5.6,"e":0},{"t":"2009-08-22T18:00","v":5.2,"e":0},{"t":"2009-08-23T00:00","v":5.4,"e":0},{"t":"2009-08-23T06:00","v":5.9,"e":0},{"t":"2009-08-23T12:00","v":5.3,"e":0},{"t":"2009-08-23T18:00","v":5.7,"e":0},{"t":"2009-08-24T00:00","v":5.6,"e":0},{"t":"2009-08-24T06:00","v":5.5,"e":0},{"t":"2009-08-24T12:00","v":6.1,"e":0},{"t":"2009-08-24T18:00","v":5.8,"e":0},{"t":"2009-08-25T00:00","v":6.2,"e":0},
{"t":"2009-08-25T02:00","v":6.3,"e":1},{"t":"2009-08-25T06:00","v":7.5,"e":1},{"t":"2009-08-25T08:00","v":8.7,"e":1},{"t":"2009-08-25T12:00","v":12.0,"e":1},{"t":"2009-08-25T14:00","v":10.8,"e":1},{"t":"2009-08-25T18:00","v":10.2,"e":1},{"t":"2009-08-25T22:00","v":9.9,"e":1},{"t":"2009-08-26T00:00","v":8.9,"e":1},{"t":"2009-08-26T02:00","v":4.6,"e":1},
{"t":"2009-08-26T05:00","v":5.6,"e":0},{"t":"2009-08-26T08:00","v":4.9,"e":0},{"t":"2009-08-26T12:00","v":5.4,"e":0},{"t":"2009-08-26T18:00","v":4.8,"e":0},{"t":"2009-08-27T00:00","v":4.6,"e":0},{"t":"2009-08-27T06:00","v":4.3,"e":0},{"t":"2009-08-27T12:00","v":4.5,"e":0},{"t":"2009-08-27T18:00","v":3.8,"e":0},{"t":"2009-08-28T00:00","v":4.0,"e":0},{"t":"2009-08-28T06:00","v":3.7,"e":0},{"t":"2009-08-28T12:00","v":3.3,"e":0},{"t":"2009-08-28T18:00","v":3.6,"e":0},{"t":"2009-08-29T00:00","v":3.1,"e":0},{"t":"2009-08-29T06:00","v":3.4,"e":0},{"t":"2009-08-29T12:00","v":2.9,"e":0},{"t":"2009-08-29T18:00","v":3.3,"e":0},{"t":"2009-08-30T00:00","v":3.2,"e":0},{"t":"2009-08-30T06:00","v":3.6,"e":0},{"t":"2009-08-30T12:00","v":3.1,"e":0},{"t":"2009-08-30T18:00","v":3.5,"e":0},{"t":"2009-08-31T00:00","v":3.6,"e":0},{"t":"2009-08-31T06:00","v":3.3,"e":0},{"t":"2009-08-31T12:00","v":3.9,"e":0},{"t":"2009-08-31T18:00","v":3.7,"e":0},{"t":"2009-09-01T00:00","v":3.8,"e":0},{"t":"2009-09-01T06:00","v":4.2,"e":0},{"t":"2009-09-01T12:00","v":4.0,"e":0},
{"t":"2009-09-01T17:00","v":4.6,"e":2},{"t":"2009-09-01T22:00","v":5.3,"e":2},{"t":"2009-09-02T02:00","v":5.8,"e":2},{"t":"2009-09-02T07:00","v":7.6,"e":2},{"t":"2009-09-02T12:00","v":8.4,"e":2},{"t":"2009-09-02T17:00","v":8.1,"e":2},{"t":"2009-09-02T22:00","v":9.0,"e":2},{"t":"2009-09-03T02:00","v":8.3,"e":2},{"t":"2009-09-03T07:00","v":8.8,"e":2},{"t":"2009-09-03T11:00","v":7.6,"e":2},{"t":"2009-09-03T14:00","v":6.5,"e":2},
{"t":"2009-09-03T18:00","v":6.9,"e":0},{"t":"2009-09-04T00:00","v":6.0,"e":0},{"t":"2009-09-04T06:00","v":6.4,"e":0},{"t":"2009-09-04T12:00","v":5.7,"e":0},{"t":"2009-09-04T18:00","v":5.5,"e":0},{"t":"2009-09-05T00:00","v":5.8,"e":0},{"t":"2009-09-05T06:00","v":5.1,"e":0},{"t":"2009-09-05T12:00","v":5.4,"e":0},{"t":"2009-09-05T18:00","v":5.0,"e":0},{"t":"2009-09-06T00:00","v":5.3,"e":0},{"t":"2009-09-06T06:00","v":4.9,"e":0},{"t":"2009-09-06T12:00","v":5.5,"e":0},{"t":"2009-09-06T18:00","v":5.2,"e":0},{"t":"2009-09-07T00:00","v":5.6,"e":0},{"t":"2009-09-07T06:00","v":5.3,"e":0},{"t":"2009-09-07T12:00","v":5.9,"e":0},{"t":"2009-09-07T18:00","v":5.4,"e":0},{"t":"2009-09-08T00:00","v":5.8,"e":0},{"t":"2009-09-08T06:00","v":6.0,"e":0},{"t":"2009-09-08T12:00","v":5.6,"e":0},{"t":"2009-09-08T18:00","v":6.2,"e":0},{"t":"2009-09-09T00:00","v":6.0,"e":0},{"t":"2009-09-09T06:00","v":6.5,"e":0},{"t":"2009-09-09T12:00","v":6.1,"e":0},{"t":"2009-09-09T18:00","v":6.6,"e":0},{"t":"2009-09-10T00:00","v":6.4,"e":0},{"t":"2009-09-10T06:00","v":6.9,"e":0},{"t":"2009-09-10T12:00","v":6.6,"e":0},{"t":"2009-09-10T18:00","v":6.8,"e":0},{"t":"2009-09-11T00:00","v":7.1,"e":0},{"t":"2009-09-11T06:00","v":6.7,"e":0},{"t":"2009-09-11T12:00","v":7.2,"e":0},{"t":"2009-09-11T18:00","v":7.0,"e":0},{"t":"2009-09-12T00:00","v":7.4,"e":0},{"t":"2009-09-12T06:00","v":7.1,"e":0},{"t":"2009-09-12T12:00","v":7.3,"e":0},{"t":"2009-09-12T18:00","v":7.6,"e":0},{"t":"2009-09-13T00:00","v":7.2,"e":0},{"t":"2009-09-13T06:00","v":7.7,"e":0},{"t":"2009-09-13T12:00","v":7.4,"e":0},{"t":"2009-09-13T18:00","v":7.5,"e":0},{"t":"2009-09-14T00:00","v":7.9,"e":0},
{"t":"2009-09-14T05:00","v":8.0,"e":3},{"t":"2009-09-14T07:00","v":13.8,"e":3},{"t":"2009-09-14T12:00","v":13.4,"e":3},{"t":"2009-09-14T18:00","v":14.0,"e":3},{"t":"2009-09-15T00:00","v":13.6,"e":3},{"t":"2009-09-15T06:00","v":14.1,"e":3},{"t":"2009-09-15T12:00","v":15.2,"e":3},{"t":"2009-09-15T14:00","v":14.8,"e":3},{"t":"2009-09-15T18:00","v":15.6,"e":3},{"t":"2009-09-15T20:00","v":6.2,"e":3},
{"t":"2009-09-16T00:00","v":6.8,"e":0},{"t":"2009-09-16T06:00","v":6.0,"e":0},{"t":"2009-09-16T12:00","v":5.4,"e":0},{"t":"2009-09-16T18:00","v":5.1,"e":0},{"t":"2009-09-17T00:00","v":4.5,"e":0},{"t":"2009-09-17T06:00","v":4.7,"e":0},{"t":"2009-09-17T12:00","v":4.0,"e":0},{"t":"2009-09-17T18:00","v":3.9,"e":0},{"t":"2009-09-18T00:00","v":3.4,"e":0},{"t":"2009-09-18T06:00","v":3.7,"e":0},{"t":"2009-09-18T12:00","v":3.3,"e":0},{"t":"2009-09-18T18:00","v":3.5,"e":0},{"t":"2009-09-19T00:00","v":3.0,"e":0},{"t":"2009-09-19T06:00","v":3.4,"e":0},{"t":"2009-09-19T12:00","v":3.6,"e":0},{"t":"2009-09-19T18:00","v":3.1,"e":0},{"t":"2009-09-20T00:00","v":3.3,"e":0},{"t":"2009-09-20T06:00","v":3.0,"e":0},{"t":"2009-09-20T12:00","v":3.5,"e":0},{"t":"2009-09-20T18:00","v":3.2,"e":0},{"t":"2009-09-21T00:00","v":3.0,"e":0},{"t":"2009-09-21T06:00","v":3.4,"e":0},{"t":"2009-09-21T12:00","v":3.1,"e":0},{"t":"2009-09-21T18:00","v":3.3,"e":0},{"t":"2009-09-22T00:00","v":3.0,"e":0},{"t":"2009-09-22T06:00","v":3.4,"e":0},{"t":"2009-09-22T12:00","v":3.2,"e":0},{"t":"2009-09-22T18:00","v":3.5,"e":0},{"t":"2009-09-22T22:00","v":3.2,"e":0}
]
},
"vconcat":[
{
 "width":511,"height":106,
 "layer":[
  {"data":{"name":"a"},"mark":{"type":"line","strokeWidth":1.4},
   "encoding":{
    "x":{"field":"t","type":"temporal","scale":{"domain":[{"year":2009,"month":8,"date":18,"hours":8,"minutes":35},{"year":2009,"month":9,"date":24,"hours":15,"minutes":35}]},"axis":null},
    "y":{"field":"v","type":"quantitative","scale":{"domain":[0.112,0.495],"nice":false,"zero":false},"axis":{"values":[0.2,0.3,0.4],"tickCount":10,"format":".1f","title":"VWC [m3/m3]","titleX":-25}},
    "color":{"field":"s","type":"nominal","scale":{"domain":["5 cm","10 cm","30 cm","50 cm","80 cm"],"range":["#F9A34A","#EE5566","#2B7BC4","#1CAF8C","#33C3C8"]},"legend":{"title":"Sensor depth","orient":"none","legendX":533,"legendY":7}}
   }},
  {"data":{"values":[{}]},"mark":{"type":"text","text":"a","fontWeight":"bold","fontSize":16,"align":"left","baseline":"alphabetic"},
   "encoding":{"x":{"datum":{"year":2009,"month":8,"date":20,"hours":5,"minutes":30},"type":"temporal"},"y":{"datum":0.448}}},
  {"data":{"values":[{}]},"mark":{"type":"text","text":"Measurements","fontSize":13,"align":"left","baseline":"alphabetic","dx":17},
   "encoding":{"x":{"datum":{"year":2009,"month":8,"date":20,"hours":5,"minutes":30},"type":"temporal"},"y":{"datum":0.448}}}
 ]
},
{
 "width":511,"height":115,
 "layer":[
  {"data":{"name":"b"},"transform":[{"filter":{"field":"s","oneOf":["10 cm","30 cm","50 cm"]}}],"mark":{"type":"line","strokeWidth":1.4},
   "encoding":{
    "x":{"field":"t","type":"temporal","scale":{"domain":[{"year":2009,"month":8,"date":18,"hours":8,"minutes":35},{"year":2009,"month":9,"date":24,"hours":15,"minutes":35}]},"axis":null},
    "y":{"field":"v","type":"quantitative","scale":{"domain":[13.1,96.4],"nice":false,"zero":false},"axis":{"values":[25,50,75],"tickCount":10,"title":"Saturation [%]","titleX":-25}},
    "color":{"field":"s","type":"nominal","scale":{"domain":["5 cm","10 cm","30 cm","50 cm","80 cm"],"range":["#F9A34A","#EE5566","#2B7BC4","#1CAF8C","#33C3C8"]},"legend":null},
    "strokeDash":{"datum":"Selected","scale":{"domain":["Selected","Not selected"],"range":[[1,0],[1.5,4]]},"legend":{"title":"Ensemble selection","orient":"none","legendX":533,"legendY":52,"symbolStrokeColor":"black"}}
   }},
  {"data":{"name":"b"},"transform":[{"filter":{"field":"s","oneOf":["5 cm","80 cm"]}}],"mark":{"type":"line","strokeWidth":1.6},
   "encoding":{
    "x":{"field":"t","type":"temporal"},
    "y":{"field":"v","type":"quantitative"},
    "color":{"field":"s","type":"nominal","legend":null},
    "strokeDash":{"datum":"Not selected"}
   }},
  {"data":{"values":[{}]},"mark":{"type":"text","text":"b","fontWeight":"bold","fontSize":16,"align":"left","baseline":"alphabetic"},
   "encoding":{"x":{"datum":{"year":2009,"month":8,"date":20,"hours":5,"minutes":30},"type":"temporal"},"y":{"datum":85.6}}},
  {"data":{"values":[{}]},"mark":{"type":"text","text":"Normalized + Ensemble selection","fontSize":13,"align":"left","baseline":"alphabetic","dx":17},
   "encoding":{"x":{"datum":{"year":2009,"month":8,"date":20,"hours":5,"minutes":30},"type":"temporal"},"y":{"datum":85.6}}}
 ]
},
{
 "width":511,"height":114,
 "layer":[
  {"data":{"name":"c"},"mark":{"type":"line","strokeWidth":1.4,"color":"black"},
   "encoding":{
    "x":{"field":"t","type":"temporal","scale":{"domain":[{"year":2009,"month":8,"date":18,"hours":8,"minutes":35},{"year":2009,"month":9,"date":24,"hours":15,"minutes":35}]},"axis":null},
    "y":{"field":"v","type":"quantitative","scale":{"domain":[53,86.3],"nice":false,"zero":false},"axis":{"values":[60,70,80],"tickCount":10,"title":"Saturation [%]","titleX":-25}}
   }},
  {"data":{"name":"c"},"transform":[{"filter":"datum.e > 0"}],"mark":{"type":"line","strokeWidth":1.4},
   "encoding":{
    "x":{"field":"t","type":"temporal"},
    "y":{"field":"v","type":"quantitative"},
    "detail":{"field":"e","type":"nominal"},
    "color":{"datum":"Infiltration Event","scale":{"domain":["Infiltration Event"],"range":["#FF0000"]},"legend":null}
   }},
  {"data":{"values":[{}]},"mark":{"type":"text","text":"c","fontWeight":"bold","fontSize":16,"align":"left","baseline":"alphabetic"},
   "encoding":{"x":{"datum":{"year":2009,"month":8,"date":20,"hours":5,"minutes":30},"type":"temporal"},"y":{"datum":82.2}}},
  {"data":{"values":[{}]},"mark":{"type":"text","text":"Ensemble mean","fontSize":13,"align":"left","baseline":"alphabetic","dx":17},
   "encoding":{"x":{"datum":{"year":2009,"month":8,"date":20,"hours":5,"minutes":30},"type":"temporal"},"y":{"datum":82.2}}}
 ]
},
{
 "width":511,"height":106,
 "layer":[
  {"data":{"name":"d"},"mark":{"type":"line","strokeWidth":1.4,"color":"black"},
   "encoding":{
    "x":{"field":"t","type":"temporal","scale":{"domain":[{"year":2009,"month":8,"date":18,"hours":8,"minutes":35},{"year":2009,"month":9,"date":24,"hours":15,"minutes":35}]},"axis":{"values":[{"year":2009,"month":8,"date":24},{"year":2009,"month":9,"date":7},{"year":2009,"month":9,"date":21}],"tickCount":10,"format":"%Y-%m-%d","title":null,"labelPadding":2}},
    "y":{"field":"v","type":"quantitative","scale":{"domain":[2.07,16.7],"nice":false,"zero":false},"axis":{"values":[4,8,12,16],"tickCount":10,"title":"Saturation [%]","titleX":-25}}
   }},
  {"data":{"name":"d"},"transform":[{"filter":"datum.e > 0"}],"mark":{"type":"line","strokeWidth":1.4},
   "encoding":{
    "x":{"field":"t","type":"temporal"},
    "y":{"field":"v","type":"quantitative"},
    "detail":{"field":"e","type":"nominal"},
    "color":{"datum":"Infiltration Event","scale":{"domain":["Infiltration Event"],"range":["#FF0000"]},"legend":{"title":"Event delineation","orient":"none","legendX":533,"legendY":45}}
   }},
  {"data":{"values":[{}]},"mark":{"type":"text","text":"d","fontWeight":"bold","fontSize":16,"align":"left","baseline":"alphabetic"},
   "encoding":{"x":{"datum":{"year":2009,"month":8,"date":20,"hours":5,"minutes":30},"type":"temporal"},"y":{"datum":14.8}}},
  {"data":{"values":[{}]},"mark":{"type":"text","text":"Ensemble SD","fontSize":13,"align":"left","baseline":"alphabetic","dx":17},
   "encoding":{"x":{"datum":{"year":2009,"month":8,"date":20,"hours":5,"minutes":30},"type":"temporal"},"y":{"datum":14.8}}}
 ]
}
],
"resolve":{"scale":{"color":"independent","strokeDash":"independent","x":"independent","y":"independent"},"legend":{"color":"independent","strokeDash":"independent"}}
}
